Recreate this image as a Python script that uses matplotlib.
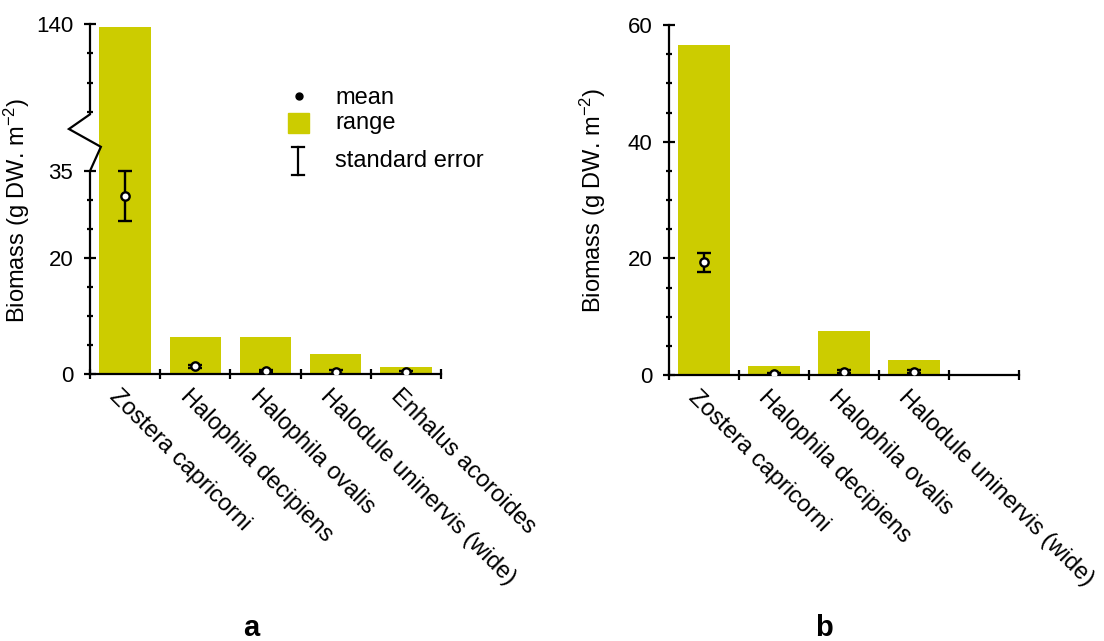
import numpy as np
import matplotlib
matplotlib.use("Agg")
import matplotlib.pyplot as plt
from matplotlib.patches import Rectangle
from matplotlib.transforms import ScaledTranslation

plt.rcParams['font.family'] = ['Liberation Sans', 'DejaVu Sans']
plt.rcParams['mathtext.fontset'] = 'custom'
plt.rcParams['mathtext.rm'] = 'Liberation Sans'
plt.rcParams['mathtext.it'] = 'Liberation Sans:italic'

species_a = ["Zostera capricorni", "Halophila decipiens", "Halophila ovalis",
             "Halodule uninervis (wide)", "Enhalus acoroides"]
species_b = ["Zostera capricorni", "Halophila decipiens", "Halophila ovalis",
             "Halodule uninervis (wide)"]

# panel a (range = bar, mean +- standard error)
range_lo_a = [0, 0, 0, 0, 0]
range_hi_a = [139, 6.3, 6.3, 3.5, 1.2]
mean_a = [30.7, 1.3, 0.5, 0.4, 0.3]
se_a = [4.4, 0.25, 0.2, 0.35, 0.3]

# panel b (Enhalus absent)
range_lo_b = [0, 0, 0, 0, np.nan]
range_hi_b = [56.5, 1.5, 7.5, 2.6, np.nan]
mean_b = [19.3, 0.2, 0.6, 0.6, np.nan]
se_b = [1.7, 0.1, 0.3, 0.3, np.nan]

BAR = '#cccc00'
FS = 17
TICK_FS = 16

# broken y axis for panel a: 0-35 linear, 35-110 squeezed, 110-140 compressed
brk_y = [0, 35, 110, 140]
brk_f = [0, 0.58, 0.749, 1.0]


def fwd(y):
    y = np.asarray(y, dtype=float)
    out = np.interp(y, brk_y, brk_f)
    out = np.where(y < 0, y * brk_f[1] / brk_y[1], out)
    out = np.where(y > 140, 1.0 + (y - 140) * 0.25 / 30, out)
    return out


def inv(f):
    f = np.asarray(f, dtype=float)
    out = np.interp(f, brk_f, brk_y)
    out = np.where(f < 0, f * brk_y[1] / brk_f[1], out)
    out = np.where(f > 1, 140 + (f - 1) * 30 / 0.25, out)
    return out


fig = plt.figure(figsize=(11.04, 6.41), dpi=100)
ax_a = fig.add_axes([90 / 1104, 267 / 641, 351 / 1104, 350 / 641])
ax_b = fig.add_axes([669 / 1104, 266 / 641, 350 / 1104, 350 / 641])


def draw_panel(ax, names, lo, hi, mean, se):
    x = np.arange(5)
    lo = np.asarray(lo, dtype=float)
    hi = np.asarray(hi, dtype=float)
    ax.bar(x, hi - lo, bottom=lo, width=0.73, color=BAR, zorder=1)
    ax.errorbar(x, mean, yerr=se, fmt='o', color='black', ms=6,
                mfc='white', mec='black', mew=1.7, elinewidth=1.7,
                capsize=5, capthick=1.7, zorder=3)
    ax.set_xlim(-0.5, 4.5)
    for s in ['top', 'right']:
        ax.spines[s].set_visible(False)
    ax.spines['bottom'].set_linewidth(1.6)
    ax.spines['left'].set_linewidth(1.6)
    ax.set_xticks(np.arange(-0.5, 5, 1))
    ax.set_xticklabels([])
    ax.set_xticks(np.arange(len(names)), names, minor=True)
    ax.tick_params(axis='x', which='major', direction='inout', length=7, width=1.6)
    ax.tick_params(axis='x', which='minor', length=0, pad=8)
    shift = ScaledTranslation(-12 / 100, -8 / 100, fig.dpi_scale_trans)
    for lab in ax.get_xticklabels(minor=True):
        lab.set_rotation(-45)
        lab.set_ha('left')
        lab.set_va('center')
        lab.set_rotation_mode('anchor')
        lab.set_fontsize(FS)
        lab.set_transform(lab.get_transform() + shift)
    ax.tick_params(axis='y', which='major', direction='inout', length=8,
                   width=1.6, labelsize=TICK_FS, pad=8)
    ax.tick_params(axis='y', which='minor', direction='inout', length=5, width=1.6)


# ---- panel a
ax_a.set_yscale('function', functions=(fwd, inv))
draw_panel(ax_a, species_a, range_lo_a, range_hi_a, mean_a, se_a)
ax_a.set_ylim(0, 140)
ax_a.set_yticks([0, 20, 35, 140])
ax_a.set_yticklabels(['0', '20', '35', '140'])
ax_a.set_yticks([5, 10, 15, 25, 30, 110, 120, 130], minor=True)
ax_a.spines['left'].set_visible(False)
ax_a.plot([0, 0, 0.031, -0.060, 0, 0], [0, 0.58, 0.649, 0.70, 0.742, 1.0],
          transform=ax_a.transAxes, color='black', lw=1.6, clip_on=False,
          zorder=5, solid_joinstyle='miter')
ax_a.set_ylabel('Biomass (g DW. m$^{-2}$)', fontsize=FS)
ax_a.yaxis.set_label_coords(-0.165, 0.467)

# legend drawn in axes fraction
ax_a.plot([0.595], [0.794], 'o', color='black', ms=5, transform=ax_a.transAxes)
ax_a.add_patch(Rectangle((0.564, 0.689), 0.060, 0.057, color=BAR,
                         transform=ax_a.transAxes))
ax_a.plot([0.593, 0.593], [0.568, 0.648], color='black', lw=1.6,
          transform=ax_a.transAxes)
for yy in (0.568, 0.648):
    ax_a.plot([0.576, 0.610], [yy, yy], color='black', lw=1.6,
              transform=ax_a.transAxes)
for yy, txt in [(0.79, 'mean'), (0.716, 'range'), (0.608, 'standard error')]:
    ax_a.text(0.698, yy, txt, transform=ax_a.transAxes, fontsize=FS,
              va='center', ha='left')

# ---- panel b
draw_panel(ax_b, species_b + [''], range_lo_b, range_hi_b, mean_b, se_b)
ax_b.set_ylim(0, 60)
ax_b.set_yticks([0, 20, 40, 60])
ax_b.set_yticks(np.arange(5, 60, 5), minor=True)
ax_b.set_ylabel('Biomass (g DW. m$^{-2}$)', fontsize=FS)
ax_b.yaxis.set_label_coords(-0.175, 0.5)

fig.text(251 / 1104, 1 - 628 / 641, 'a', fontsize=21, fontweight='bold',
         ha='center', va='center')
fig.text(824 / 1104, 1 - 628 / 641, 'b', fontsize=21, fontweight='bold',
         ha='center', va='center')

fig.savefig('out.png', dpi=100)
